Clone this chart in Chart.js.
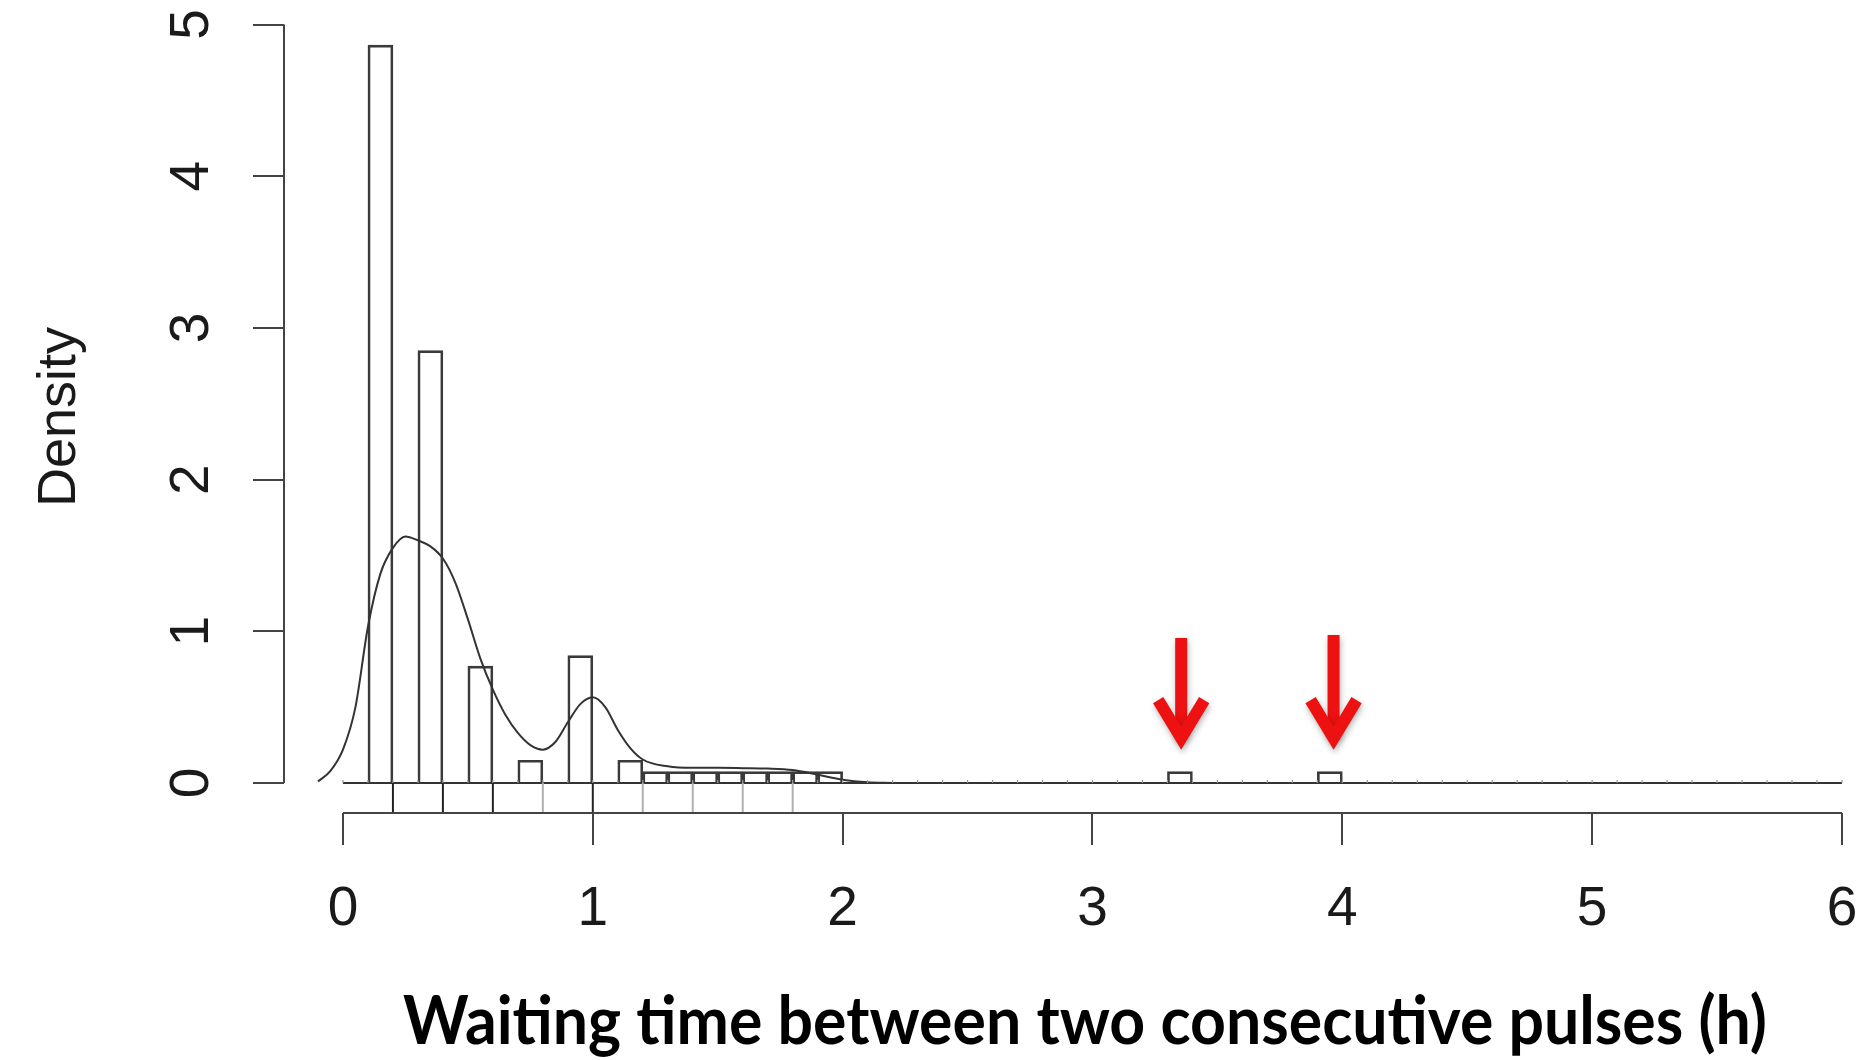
<!DOCTYPE html>
<html>
<head>
<meta charset="utf-8">
<title>Waiting time histogram</title>
<script src="https://cdn.jsdelivr.net/npm/chart.js@4.4.0/dist/chart.umd.min.js"></script>
<style>
  html, body { margin: 0; padding: 0; background: #fff; }
  #wrap { width: 1869px; height: 1060px; position: relative; }
</style>
</head>
<body>
<div id="wrap"><canvas id="hist"></canvas></div>
<script>
// --- Data ---
// non-empty histogram bins, 0.1 h wide, given by their centres
const binMid = [0.15, 0.35, 0.55, 0.75, 0.95, 1.15, 1.25, 1.35, 1.45, 1.55, 1.65, 1.75, 1.85, 1.95, 3.35, 3.95];
const binDensity = [4.865, 2.85, 0.77, 0.15, 0.84, 0.15, 0.075, 0.075, 0.075, 0.075, 0.075, 0.075, 0.075, 0.075, 0.075, 0.075];
const histRange = [0, 6];
const binWidth = 0.1;

// kernel density estimate drawn over the bars
const kdeX = [-0.1, -0.05, 0.0, 0.05, 0.1, 0.15, 0.2, 0.25, 0.3, 0.35, 0.4, 0.45, 0.5, 0.55, 0.6, 0.65, 0.7, 0.75, 0.8, 0.85, 0.9, 0.95, 1.0, 1.05, 1.1, 1.15, 1.2, 1.3, 1.4, 1.5, 1.6, 1.7, 1.8, 1.9, 2.0, 2.1, 2.2];
const kdeY = [0.01, 0.08, 0.22, 0.5, 1.03, 1.38, 1.55, 1.625, 1.6, 1.56, 1.48, 1.32, 1.08, 0.82, 0.615, 0.45, 0.33, 0.25, 0.22, 0.27, 0.4, 0.52, 0.565, 0.5, 0.35, 0.23, 0.155, 0.11, 0.1, 0.1, 0.098, 0.095, 0.085, 0.055, 0.022, 0.005, 0];

// rug marks between the bars and the x axis
const rugX = [0.2, 0.4, 0.6, 0.8, 1.0, 1.2, 1.4, 1.6, 1.8];
const rugCount = [64, 37, 10, 2, 11, 2, 2, 2, 2];

// red arrows pointing at the two long waits
const arrowX = [3.355, 3.965];
const arrowTop = [0.956, 0.976];
const arrowTip = 0.23;

const xTicks = [0, 1, 2, 3, 4, 5, 6];
const yTicks = [0, 1, 2, 3, 4, 5];
const xTitle = 'Waiting time between two consecutive pulses (h)';
const yTitle = 'Density';

// --- R style axes, rug, arrows and titles ---
const decorPlugin = {
    id: 'decor',
    afterDatasetsDraw: (chart) => {
        const { ctx, chartArea, scales: { x, y } } = chart;
        const y0 = y.getPixelForValue(0);
        ctx.save();

        // baseline of the histogram (empty bins) with little break marks
        ctx.strokeStyle = '#333';
        ctx.lineWidth = 2;
        ctx.beginPath();
        ctx.moveTo(x.getPixelForValue(histRange[0]), y0);
        ctx.lineTo(x.getPixelForValue(histRange[1]), y0);
        ctx.stroke();
        ctx.strokeStyle = '#999';
        ctx.lineWidth = 1.2;
        ctx.beginPath();
        for (let b = histRange[0]; b <= histRange[1] + 1e-9; b += binWidth) {
            const px = x.getPixelForValue(b);
            ctx.moveTo(px, y0);
            ctx.lineTo(px, y0 - 3);
        }
        ctx.stroke();

        // rug
        ctx.lineWidth = 2;
        rugX.forEach((v, i) => {
            const px = x.getPixelForValue(v);
            ctx.strokeStyle = rugCount[i] >= 10 ? '#222' : '#b0b0b0';
            ctx.beginPath();
            ctx.moveTo(px, y0);
            ctx.lineTo(px, chartArea.bottom);
            ctx.stroke();
        });

        // axis lines, only over the tick range
        ctx.strokeStyle = '#444';
        ctx.lineWidth = 2;
        ctx.beginPath();
        ctx.moveTo(x.getPixelForValue(xTicks[0]), chartArea.bottom);
        ctx.lineTo(x.getPixelForValue(xTicks[xTicks.length - 1]), chartArea.bottom);
        ctx.moveTo(chartArea.left, y.getPixelForValue(yTicks[0]));
        ctx.lineTo(chartArea.left, y.getPixelForValue(yTicks[yTicks.length - 1]));
        ctx.stroke();

        // y tick labels and y title, rotated like R's las=0
        ctx.fillStyle = '#1a1a1a';
        ctx.textAlign = 'center';
        ctx.textBaseline = 'middle';
        ctx.font = '55px "Liberation Sans", Arial, sans-serif';
        yTicks.forEach(v => {
            ctx.save();
            ctx.translate(chartArea.left - 91, y.getPixelForValue(v));
            ctx.rotate(-Math.PI / 2);
            ctx.fillText(String(v), 0, 0);
            ctx.restore();
        });
        ctx.save();
        ctx.font = '54px "Liberation Sans", Arial, sans-serif';
        ctx.translate(60, 417);
        ctx.rotate(-Math.PI / 2);
        ctx.fillText(yTitle, 0, 0);
        ctx.restore();

        // arrows
        ctx.save();
        ctx.strokeStyle = '#ee1111';
        ctx.lineWidth = 12;
        ctx.lineCap = 'butt';
        ctx.lineJoin = 'miter';
        ctx.shadowColor = 'rgba(0,0,0,0.3)';
        ctx.shadowBlur = 6;
        ctx.shadowOffsetX = 1;
        ctx.shadowOffsetY = 3;
        arrowX.forEach((ax, i) => {
            const px = x.getPixelForValue(ax);
            const top = y.getPixelForValue(arrowTop[i]);
            const tip = y.getPixelForValue(arrowTip) - 10;
            ctx.beginPath();
            ctx.moveTo(px, top);
            ctx.lineTo(px, tip);
            ctx.stroke();
            ctx.beginPath();
            ctx.moveTo(px - 23, tip - 38);
            ctx.lineTo(px, tip);
            ctx.lineTo(px + 23, tip - 38);
            ctx.stroke();
        });
        ctx.restore();

        // bold x title (Calibri-like, so squeeze Lato a little)
        ctx.fillStyle = '#000';
        ctx.font = 'bold 66px Lato, sans-serif';
        ctx.textBaseline = 'alphabetic';
        const w = ctx.measureText(xTitle).width;
        ctx.translate(1085, 1044);
        ctx.scale(1364 / w, 1);
        ctx.fillText(xTitle, 0, 0);

        ctx.restore();
    }
};

const App = {
    chart: null,

    init: () => {
        const ctx = document.getElementById('hist').getContext('2d');
        App.chart = new Chart(ctx, {
            type: 'bar',
            data: {
                datasets: [
                    {
                        type: 'line',
                        data: kdeX.map((v, i) => ({ x: v, y: kdeY[i] })),
                        borderColor: '#333',
                        borderWidth: 2,
                        pointRadius: 0,
                        fill: false,
                        cubicInterpolationMode: 'monotone',
                        order: 0
                    },
                    {
                        type: 'bar',
                        data: binMid.map((v, i) => ({ x: v, y: binDensity[i] })),
                        backgroundColor: 'rgba(255,255,255,0)',
                        borderColor: '#3a3a3a',
                        borderWidth: 2,
                        borderSkipped: 'start',
                        barPercentage: 1,
                        categoryPercentage: 1,
                        order: 1
                    }
                ]
            },
            options: {
                responsive: true,
                maintainAspectRatio: false,
                animation: false,
                devicePixelRatio: 1,
                layout: { padding: { top: 0, right: 27, bottom: 0, left: 0 } },
                plugins: {
                    legend: { display: false },
                    tooltip: { enabled: false }
                },
                scales: {
                    x: {
                        type: 'linear',
                        min: -0.236,
                        max: 6,
                        offset: false,
                        afterBuildTicks: s => { s.ticks = xTicks.map(v => ({ value: v })); },
                        afterFit: s => { s.height = 247; s.paddingLeft = 0; s.paddingRight = 0; },
                        grid: { display: true, drawOnChartArea: false, drawTicks: true, tickLength: 32, color: '#444', lineWidth: 2, offset: false },
                        border: { display: false },
                        ticks: {
                            color: '#1a1a1a',
                            padding: 32,
                            maxRotation: 0,
                            font: { family: '"Liberation Sans", Arial, sans-serif', size: 55 }
                        }
                    },
                    y: {
                        type: 'linear',
                        min: -0.1978,
                        max: 5.162,
                        afterBuildTicks: s => { s.ticks = yTicks.map(v => ({ value: v })); },
                        afterFit: s => { s.width = 284; s.paddingTop = 0; s.paddingBottom = 0; },
                        grid: { display: true, drawOnChartArea: false, drawTicks: true, tickLength: 31, color: '#444', lineWidth: 2 },
                        border: { display: false },
                        ticks: { display: false }
                    }
                }
            },
            plugins: [decorPlugin]
        });
    }
};

document.addEventListener('DOMContentLoaded', App.init);
</script>
</body>
</html>
